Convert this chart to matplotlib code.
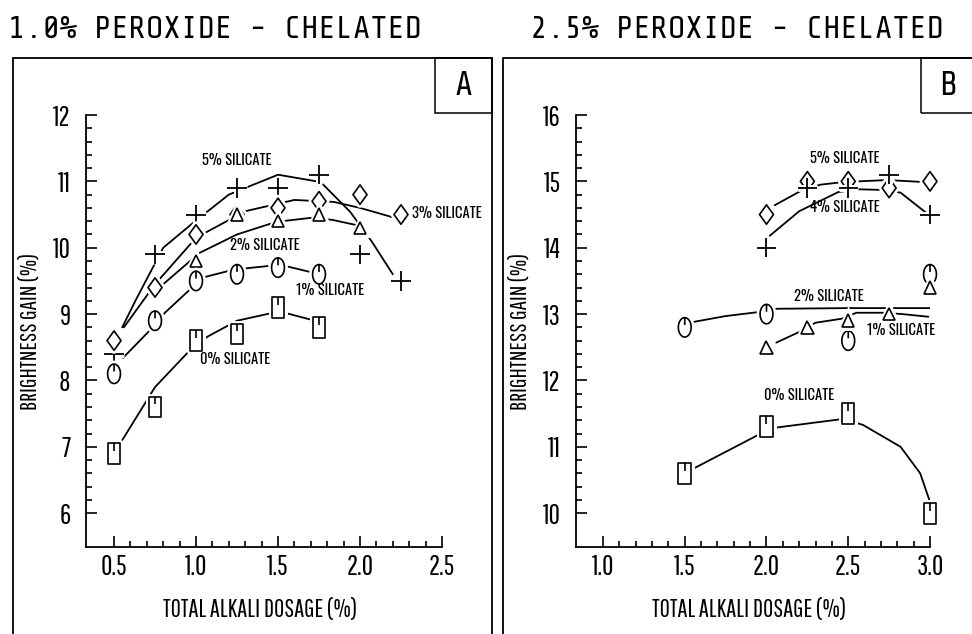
#!/usr/bin/env python3

import numpy as np
import matplotlib.pyplot as plt
from matplotlib.path import Path
from matplotlib.patches import Rectangle
import matplotlib.patheffects as pe

# ---- panel A : 1.0% peroxide, chelated ----
a_plus_x = [0.5, 0.75, 1.0, 1.25, 1.5, 1.75, 2.0, 2.25]          # 5% silicate
a_plus_y = [8.4, 9.9, 10.5, 10.9, 10.9, 11.1, 9.9, 9.5]
a_diam_x = [0.5, 0.75, 1.0, 1.25, 1.5, 1.75, 2.0, 2.25]          # 3% silicate
a_diam_y = [8.6, 9.4, 10.2, 10.5, 10.6, 10.7, 10.8, 10.5]
a_tri_x = [1.0, 1.25, 1.5, 1.75, 2.0]                             # 2% silicate
a_tri_y = [9.8, 10.5, 10.4, 10.5, 10.3]
a_circ_x = [0.5, 0.75, 1.0, 1.25, 1.5, 1.75]                      # 1% silicate
a_circ_y = [8.1, 8.9, 9.5, 9.6, 9.7, 9.6]
a_sq_x = [0.5, 0.75, 1.0, 1.25, 1.5, 1.75]                        # 0% silicate
a_sq_y = [6.9, 7.6, 8.6, 8.7, 9.1, 8.8]

# hand-fitted trend curves, panel A
a_fit5_x = [0.55, 0.63, 0.8, 0.98, 1.2, 1.5, 1.76, 1.94, 2.07, 2.2]
a_fit5_y = [8.8, 9.2, 10.0, 10.37, 10.8, 11.1, 10.99, 10.54, 10.1, 9.6]
a_fit3_x = [0.56, 0.75, 1.0, 1.3, 1.6, 1.84, 2.0, 2.24]
a_fit3_y = [8.8, 9.45, 10.15, 10.55, 10.72, 10.69, 10.6, 10.43]
a_fit2_x = [0.8, 1.02, 1.25, 1.49, 1.7, 1.83, 1.98]
a_fit2_y = [9.45, 9.92, 10.2, 10.39, 10.45, 10.42, 10.34]
a_fit1_x = [0.555, 0.72, 0.81, 0.98, 1.04, 1.23, 1.5, 1.57, 1.72]
a_fit1_y = [8.34, 8.76, 9.02, 9.41, 9.55, 9.67, 9.74, 9.71, 9.62]
a_fit0_x = [0.54, 0.75, 0.98, 1.07, 1.25, 1.47, 1.54, 1.71]
a_fit0_y = [7.06, 7.9, 8.5, 8.66, 8.9, 9.02, 9.02, 8.91]

# ---- panel B : 2.5% peroxide, chelated ----
b_diam_x = [2.0, 2.25, 2.5, 2.75, 3.0]                            # 5% silicate
b_diam_y = [14.5, 15.0, 15.0, 14.9, 15.0]
b_plus_x = [2.0, 2.25, 2.5, 2.75, 3.0]                            # 4% silicate
b_plus_y = [14.0, 14.9, 14.9, 15.1, 14.5]
b_circ_x = [1.5, 2.0, 2.5, 3.0]                                   # 2% silicate
b_circ_y = [12.8, 13.0, 12.6, 13.6]
b_tri_x = [2.0, 2.25, 2.5, 2.75, 3.0]                             # 1% silicate
b_tri_y = [12.5, 12.8, 12.9, 13.0, 13.4]
b_sq_x = [1.5, 2.0, 2.5, 3.0]                                     # 0% silicate
b_sq_y = [10.6, 11.3, 11.5, 10.0]

b_fit5_x = [2.05, 2.22, 2.33, 2.47, 2.56, 2.74, 2.96]
b_fit5_y = [14.64, 14.87, 14.95, 14.99, 15.0, 15.02, 14.99]
b_fit4_x = [2.02, 2.2, 2.44, 2.57, 2.72, 2.82, 2.99]
b_fit4_y = [14.18, 14.55, 14.84, 14.88, 14.87, 14.83, 14.5]
b_fit2_x = [1.55, 1.75, 1.95, 2.06, 2.5, 3.02]
b_fit2_y = [12.88, 12.97, 13.03, 13.08, 13.09, 13.09]
b_fit1_x = [2.06, 2.2, 2.3, 2.46, 2.55, 2.71, 2.83, 2.99]
b_fit1_y = [12.57, 12.73, 12.87, 12.93, 13.02, 13.02, 13.0, 12.96]
b_fit0_x = [1.56, 1.95, 2.06, 2.47, 2.59, 2.82, 2.94, 3.0]
b_fit0_y = [10.68, 11.18, 11.29, 11.42, 11.33, 11.0, 10.6, 10.17]

titles = ["1.0% PEROXIDE - CHELATED", "2.5% PEROXIDE - CHELATED"]
panel_tags = ["A", "B"]
x_label = "TOTAL ALKALI DOSAGE (%)"
y_label = "BRIGHTNESS GAIN (%)"

MONO = ["Share Tech Mono", "DejaVu Sans"]        # headings, panel tags
NARROW = ["Pathway Gothic One", "DejaVu Sans"]   # ticks, axis titles
HEAVY = ["Oswald", "DejaVu Sans"]                # curve labels
plt.rcParams["font.family"] = NARROW


def tick_marker(outline):
    # closed outline plus a short stroke hanging from the top
    verts = list(outline) + [outline[0], (0.0, 0.5), (0.0, 0.12)]
    codes = [Path.MOVETO] + [Path.LINETO] * (len(outline) - 1) + [Path.CLOSEPOLY, Path.MOVETO, Path.LINETO]
    return Path(verts, codes)


t = np.linspace(0, 2 * np.pi, 40, endpoint=False)
OVAL = tick_marker([(0.33 * np.sin(a), 0.5 * np.cos(a)) for a in t])
BOX = tick_marker([(-0.3, -0.5), (0.3, -0.5), (0.3, 0.5), (-0.3, 0.5)])
DIAMOND = Path([(0, 0.5), (0.36, 0), (0, -0.5), (-0.36, 0), (0, 0.5)],
               [Path.MOVETO, Path.LINETO, Path.LINETO, Path.LINETO, Path.CLOSEPOLY])

halo = [pe.Stroke(linewidth=5, foreground="white"), pe.Normal()]
mk_style = {
    "plus": dict(marker="+", ms=14, mew=1.3),
    "diam": dict(marker=DIAMOND, ms=14, mew=1.2),
    "tri": dict(marker="^", ms=9, mew=1.2),
    "circ": dict(marker=OVAL, ms=14, mew=1.2),
    "sq": dict(marker=BOX, ms=15, mew=1.2),
}


def draw_points(ax, x, y, kind):
    ax.plot(x, y, ls="none", color="k", mfc="white", zorder=4,
            path_effects=halo, clip_on=False, **mk_style[kind])


def draw_curve(ax, x, y):
    ax.plot(x, y, color="k", lw=1.3, zorder=2, solid_capstyle="round")


def style_axes(ax, xlim, ylim, xticks, yticks, xlabels, ylabels):
    ax.set_xlim(*xlim)
    ax.set_ylim(*ylim)
    for s in ["top", "right"]:
        ax.spines[s].set_visible(False)
    for s in ["left", "bottom"]:
        ax.spines[s].set_linewidth(1.3)
    ax.set_xticks(xticks)
    ax.set_xticklabels(xlabels, fontsize=20)
    ax.set_yticks(yticks)
    ax.set_yticklabels(ylabels, fontsize=20)
    ax.set_xticks(np.arange(xticks[0] - 0.1, xticks[-1] + 0.01, 0.1)[1:], minor=True)
    ax.set_yticks(np.arange(yticks[0], yticks[-1] + 0.01, 0.2), minor=True)
    ax.tick_params(which="both", direction="in", width=1.2)
    ax.tick_params(which="major", length=8)
    ax.tick_params(which="minor", length=4)
    ax.tick_params(axis="y", which="major", pad=11)
    ax.tick_params(axis="x", which="major", pad=5)
    ax.set_xlabel(x_label, fontsize=18)
    ax.set_ylabel(y_label, fontsize=17)
    ax.xaxis.set_label_coords(0.489, -0.118)
    ax.yaxis.set_label_coords(-0.128, 0.5)


def silicate(ax, x, y, text, ha="center"):
    ax.text(x, y, text, fontsize=10.5, family=HEAVY, ha=ha, va="center", zorder=5)


fig = plt.figure(figsize=(9.72, 6.34), dpi=100)
W, H = 972.0, 634.0
axA = fig.add_axes([86 / W, 1 - 547 / H, 356 / W, 432 / H])
axB = fig.add_axes([576 / W, 1 - 547 / H, 354 / W, 432 / H])

# panel A
for cx, cy in [(a_fit5_x, a_fit5_y), (a_fit3_x, a_fit3_y), (a_fit2_x, a_fit2_y),
               (a_fit1_x, a_fit1_y), (a_fit0_x, a_fit0_y)]:
    draw_curve(axA, cx, cy)
draw_points(axA, a_plus_x, a_plus_y, "plus")
draw_points(axA, a_diam_x, a_diam_y, "diam")
draw_points(axA, a_tri_x, a_tri_y, "tri")
draw_points(axA, a_circ_x, a_circ_y, "circ")
draw_points(axA, a_sq_x, a_sq_y, "sq")
silicate(axA, 1.25, 11.31, "5% SILICATE")
silicate(axA, 2.32, 10.52, "3% SILICATE", ha="left")
silicate(axA, 1.42, 10.03, "2% SILICATE")
silicate(axA, 1.82, 9.35, "1% SILICATE")
silicate(axA, 1.24, 8.31, "0% SILICATE")
style_axes(axA, (0.329, 2.5), (5.49, 12), [0.5, 1.0, 1.5, 2.0, 2.5], [6, 7, 8, 9, 10, 11, 12],
           ["0.5", "1.0", "1.5", "2.0", "2.5"], ["6", "7", "8", "9", "10", "11", "12"])

# panel B
for cx, cy in [(b_fit5_x, b_fit5_y), (b_fit4_x, b_fit4_y), (b_fit2_x, b_fit2_y),
               (b_fit1_x, b_fit1_y), (b_fit0_x, b_fit0_y)]:
    draw_curve(axB, cx, cy)
draw_points(axB, b_diam_x, b_diam_y, "diam")
draw_points(axB, b_plus_x, b_plus_y, "plus")
draw_points(axB, b_circ_x, b_circ_y, "circ")
draw_points(axB, b_tri_x, b_tri_y, "tri")
draw_points(axB, b_sq_x, b_sq_y, "sq")
silicate(axB, 2.48, 15.34, "5% SILICATE")
silicate(axB, 2.48, 14.6, "4% SILICATE")
silicate(axB, 2.38, 13.27, "2% SILICATE")
silicate(axB, 2.82, 12.75, "1% SILICATE")
silicate(axB, 2.2, 11.77, "0% SILICATE")
style_axes(axB, (0.835, 3.0), (9.49, 16), [1.0, 1.5, 2.0, 2.5, 3.0], [10, 11, 12, 13, 14, 15, 16],
           ["1.0", "1.5", "2.0", "2.5", "3.0"], ["10", "11", "12", "13", "14", "15", "16"])

# panel frames, tag boxes and headings
frames = [(13, 492), (503, 975)]
tag_boxes = [(435, 492), (921, 975)]
title_x = [8, 530]
for (x0, x1), (t0, t1), tag, title, tx in zip(frames, tag_boxes, panel_tags, titles, title_x):
    fig.add_artist(Rectangle((x0 / W, 1 - 640 / H), (x1 - x0) / W, (640 - 58) / H,
                             transform=fig.transFigure, fill=False, lw=1.3, ec="k"))
    fig.add_artist(Rectangle((t0 / W, 1 - 113 / H), (t1 - t0) / W, (113 - 58) / H,
                             transform=fig.transFigure, fill=False, lw=1.1, ec="k"))
    fig.text((t0 + t1) / 2 / W, 1 - 86 / H, tag, fontsize=24, family=MONO,
             ha="center", va="center")
    fig.text(tx / W, 1 - 29 / H, title, fontsize=23, family=MONO, ha="left", va="center")

fig.savefig("out.png", dpi=100)
